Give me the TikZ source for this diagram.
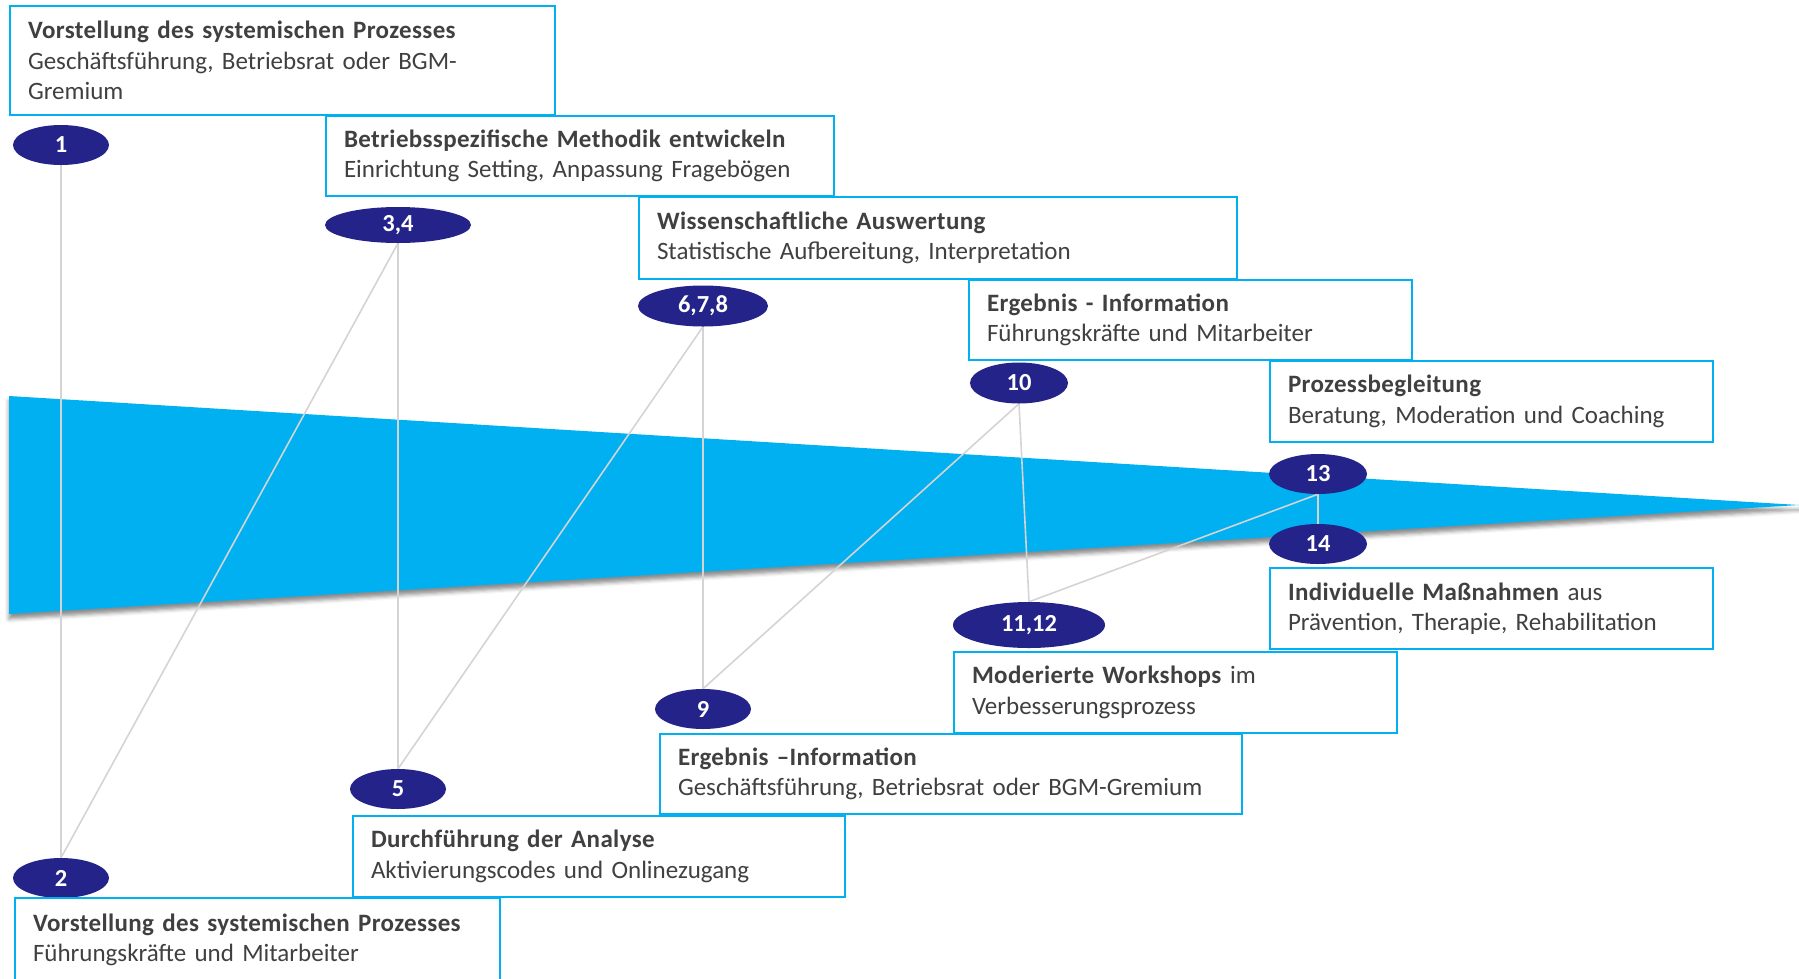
\documentclass[tikz,border=0pt]{standalone}
\usepackage{fontspec}
\setmainfont{Carlito}
\usetikzlibrary{shapes.geometric,backgrounds,shadows.blur}
\definecolor{boxblue}{HTML}{00B0F0}
\definecolor{wedgeblue}{HTML}{00B0F0}
\definecolor{navy}{HTML}{232389}
\definecolor{textgrey}{HTML}{404040}
\definecolor{linegrey}{HTML}{D4D4D4}
\frenchspacing
\newcommand{\ttl}[1]{\textbf{\addfontfeature{LetterSpace=1.5}#1}}
\tikzset{
  infobox/.style={draw=boxblue, line width=2pt, fill=white, anchor=north west,
    align=left, inner xsep=18pt, inner ysep=0pt, text=textgrey,
    font=\fontsize{25}{30.5}\selectfont},
  stepnum/.style={ellipse, fill=navy, text=white, inner sep=0pt,
    font=\fontsize{24.5}{26}\selectfont\bfseries},
  conn/.style={draw=linegrey, line width=1.6pt},
}
\begin{document}
\begin{tikzpicture}[x=1pt,y=-1pt]
\useasboundingbox (0,0) rectangle (1799,978);

% step ellipses
\node[stepnum, minimum width=96, minimum height=40] (e1) at (61,145) {1};
\node[stepnum, minimum width=96, minimum height=40] (e2) at (61,878) {2};
\node[stepnum, minimum width=146, minimum height=36] (e34) at (398,225) {3,4};
\node[stepnum, minimum width=96, minimum height=40] (e5) at (398,789) {5};
\node[stepnum, minimum width=130, minimum height=41] (e678) at (703,306) {6,7,8};
\node[stepnum, minimum width=96, minimum height=40] (e9) at (703,709) {9};
\node[stepnum, minimum width=98, minimum height=41] (e10) at (1019,383) {10};
\node[stepnum, minimum width=152, minimum height=46] (e1112) at (1029,625) {11,12};
\node[stepnum, minimum width=98, minimum height=40] (e13) at (1318,474) {13};
\node[stepnum, minimum width=98, minimum height=40] (e14) at (1318,544) {14};

% boxes
\node[infobox, minimum width=545, minimum height=109, text width=509] (bA) at (9,5)
  {\ttl{Vorstellung des systemischen Prozesses}\\Geschäftsführung, Betriebsrat oder BGM-\\Gremium};
\node[infobox, minimum width=508, minimum height=80, text width=472] (bB) at (325,115)
  {\ttl{Betriebsspezifische Methodik entwickeln}\\Einrichtung Setting, Anpassung Fragebögen};
\node[infobox, minimum width=598, minimum height=82, text width=562] (bC) at (638,196)
  {\ttl{Wissenschaftliche Auswertung}\\Statistische Aufbereitung, Interpretation};
\node[infobox, minimum width=443, minimum height=80, text width=407] (bD) at (968,279)
  {\ttl{Ergebnis - Information}\\Führungskräfte und Mitarbeiter};
\node[infobox, minimum width=443, minimum height=81, text width=407] (bE) at (1269,360)
  {\ttl{Prozessbegleitung}\\Beratung, Moderation und Coaching};
\node[infobox, minimum width=443, minimum height=81, text width=407] (bF) at (1269,567)
  {\ttl{Individuelle Maßnahmen} aus\\Prävention, Therapie, Rehabilitation};
\node[infobox, minimum width=443, minimum height=81, text width=407] (bG) at (953,651)
  {\ttl{Moderierte Workshops} im\\Verbesserungsprozess};
\node[infobox, minimum width=582, minimum height=80, text width=546] (bH) at (659,733)
  {\ttl{Ergebnis –Information}\\Geschäftsführung, Betriebsrat oder BGM-Gremium};
\node[infobox, minimum width=492, minimum height=81, text width=456] (bI) at (352,815)
  {\ttl{Durchführung der Analyse}\\Aktivierungscodes und Onlinezugang};
\node[infobox, minimum width=485, minimum height=84, text width=449] (bJ) at (14,897)
  {\ttl{Vorstellung des systemischen Prozesses}\\Führungskräfte und Mitarbeiter};

\begin{scope}[on background layer]
  \fill[wedgeblue, blur shadow={shadow xshift=0pt, shadow yshift=-5pt, shadow blur radius=4pt, shadow opacity=45}]
    (9,396) -- (1799,505) -- (9,614) -- cycle;
  \draw[conn] (e1.south) -- (e2.north);
  \draw[conn] (e2.north) -- (e34.south);
  \draw[conn] (e34.south) -- (e5.north);
  \draw[conn] (e5.north) -- (e678.south);
  \draw[conn] (e678.south) -- (e9.north);
  \draw[conn] (e9.north) -- (e10.south);
  \draw[conn] (e10.south) -- (e1112.north);
  \draw[conn] (e1112.north) -- (e13.south);
  \draw[conn] (e13.south) -- (e14.north);
\end{scope}
\end{tikzpicture}
\end{document}
